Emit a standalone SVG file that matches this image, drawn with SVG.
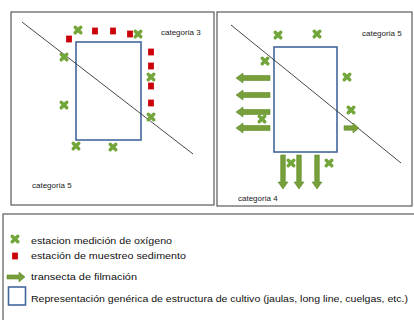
<svg xmlns="http://www.w3.org/2000/svg" xmlns:xlink="http://www.w3.org/1999/xlink" width="414" height="320" viewBox="0 0 414 320">
<style>
.panel{fill:#fff;stroke:#5a5a5a;stroke-width:1.2}
.farm{fill:none;stroke:#41679a;stroke-width:1.6}
.line{stroke:#333;stroke-width:0.9;fill:none}
.arr{fill:#77a03a;stroke:#5f8a2a;stroke-width:0.6}
.sed{fill:#cc0008}
.t{font-family:"Liberation Sans",Arial,sans-serif;font-size:8px;fill:#222}
.lg{font-family:"Liberation Sans",Arial,sans-serif;font-size:9.5px;fill:#111}
</style>
<defs>
<g id="ox"><path d="M-2.8,-2.8 L2.8,2.8 M2.8,-2.8 L-2.8,2.8" stroke="#72a53a" stroke-width="3.4" stroke-linecap="round" fill="none"/></g>
<rect id="sq" x="-2.9" y="-3.4" width="5.8" height="6.8" class="sed"/>
</defs>
<rect width="414" height="320" fill="#fff"/>
<g id="panel-left">
<rect class="panel" x="11" y="12" width="203" height="193"/>
<rect class="farm" x="76" y="42" width="65" height="98"/>
<text class="t" x="161" y="35">categoria 3</text>
<text class="t" x="32" y="188">categoria 5</text>
</g>
<g id="panel-right">
<rect class="panel" x="217" y="12" width="195" height="194"/>
<rect class="farm" x="274" y="47" width="63" height="105"/>
<text class="t" x="362" y="36">categoria 5</text>
<text class="t" x="238" y="201">categoria 4</text>
</g>
<g id="connectors">
<line class="line" x1="22" y1="22" x2="193" y2="154"/>
<line class="line" x1="231" y1="25" x2="401" y2="163"/>
</g>
<g id="transects">
<path class="arr" d="M270,75.5 H243 V73 L236,78 L243,83 V80.5 H270 Z"/>
<path class="arr" d="M270,92.5 H243 V90 L236,95 L243,100 V97.5 H270 Z"/>
<path class="arr" d="M270,109.5 H243 V107 L236,112 L243,117 V114.5 H270 Z"/>
<path class="arr" d="M270,125.5 H243 V123 L236,128 L243,133 V130.5 H270 Z"/>
<path class="arr" d="M344,125.8 H353 V123 L359,128 L353,133 V130.2 H344 Z"/>
<path class="arr" d="M280.7,155 V182 H278 L283,189 L288,182 H285.3 V155 Z"/>
<path class="arr" d="M296.7,155 V182 H294 L299,189 L304,182 H301.3 V155 Z"/>
<path class="arr" d="M314.7,155 V182 H312 L317,189 L322,182 H319.3 V155 Z"/>
</g>
<g id="sediment-stations">
<use xlink:href="#sq" x="69" y="39"/>
<use xlink:href="#sq" x="95" y="31"/>
<use xlink:href="#sq" x="113" y="31"/>
<use xlink:href="#sq" x="130" y="34"/>
<use xlink:href="#sq" x="151" y="52"/>
<use xlink:href="#sq" x="151" y="66"/>
<use xlink:href="#sq" x="151" y="86"/>
<use xlink:href="#sq" x="151" y="103"/>
</g>
<g id="oxygen-stations">
<use xlink:href="#ox" x="78" y="30"/>
<use xlink:href="#ox" x="138" y="34"/>
<use xlink:href="#ox" x="64" y="57"/>
<use xlink:href="#ox" x="64" y="105"/>
<use xlink:href="#ox" x="151" y="77"/>
<use xlink:href="#ox" x="151" y="117"/>
<use xlink:href="#ox" x="76" y="146"/>
<use xlink:href="#ox" x="113" y="147"/>
<use xlink:href="#ox" x="278" y="35"/>
<use xlink:href="#ox" x="317" y="34"/>
<use xlink:href="#ox" x="265" y="61"/>
<use xlink:href="#ox" x="347" y="77"/>
<use xlink:href="#ox" x="351" y="110"/>
<use xlink:href="#ox" x="262" y="119"/>
<use xlink:href="#ox" x="291" y="163"/>
<use xlink:href="#ox" x="329" y="163"/>
</g>
<g id="legend">
<rect class="panel" x="3" y="214" width="420" height="120"/>
<use xlink:href="#ox" x="15" y="239"/>
<use xlink:href="#sq" x="15" y="256"/>
<path class="arr" d="M7,275 H19 V272 L25,277 L19,282 V279 H7 Z"/>
<rect class="farm" x="8.5" y="287" width="17" height="18"/>
<text class="lg" x="31" y="244" textLength="141" lengthAdjust="spacingAndGlyphs">estacion medición de oxígeno</text>
<text class="lg" x="31" y="259" textLength="155" lengthAdjust="spacingAndGlyphs">estación de muestreo sedimento</text>
<text class="lg" x="31" y="280" textLength="106" lengthAdjust="spacingAndGlyphs">transecta de filmación</text>
<text class="lg" x="31" y="302" textLength="377" lengthAdjust="spacingAndGlyphs">Representación genérica de estructura de cultivo (jaulas, long line, cuelgas, etc.)</text>
</g>
</svg>
